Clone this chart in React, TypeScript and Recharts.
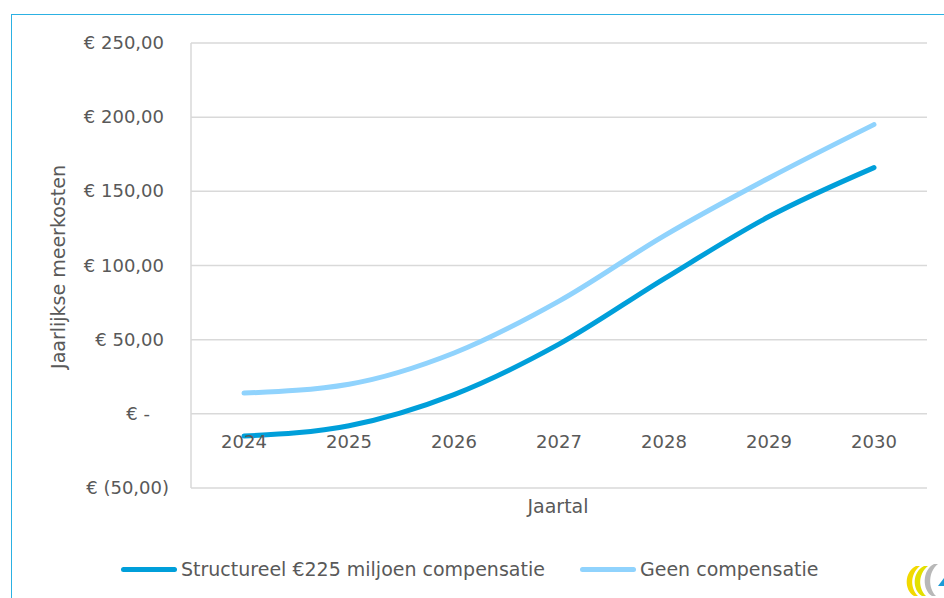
import { LineChart, Line, XAxis, YAxis, CartesianGrid } from 'recharts'

const years = ['2024', '2025', '2026', '2027', '2028', '2029', '2030']
const structureel = [-15, -8, 13, 47, 91, 133, 166]
const geen = [14, 20, 41, 76, 120, 159, 195]
const yTicks = [-50, 0, 50, 100, 150, 200, 250]

const data = years.map((year, i) => ({
  year,
  structureel: structureel[i],
  geen: geen[i],
}))

const W = 944
const H = 598
const PLOT_TOP = 43
const PLOT_BOTTOM = 488
const PLOT_LEFT = 191
const PLOT_RIGHT = 927
const Y_MIN = -50
const Y_MAX = 250

const font = '"DejaVu Sans", sans-serif'
const textColor = '#595959'
const gridColor = '#d9d9d9'
const darkBlue = '#009fda'
const lightBlue = '#90d3fd'

const zeroY = PLOT_TOP + ((PLOT_BOTTOM - PLOT_TOP) * Y_MAX) / (Y_MAX - Y_MIN)

function euro(v: number) {
  if (v === 0) return '€ -'
  const s = Math.abs(v).toFixed(2).replace('.', ',')
  return v < 0 ? `€ (${s})` : `€ ${s}`
}

function YTick(props: any) {
  const { x, y, payload } = props
  const v = payload.value as number
  let dx = 0
  if (v === 0) dx = -14
  if (v < 0) dx = 5
  return (
    <text
      x={x + dx}
      y={y}
      dy={6}
      textAnchor="end"
      fontFamily={font}
      fontSize={18}
      fill={textColor}
    >
      {euro(v)}
    </text>
  )
}

function XTick(props: any) {
  const { x, payload } = props
  return (
    <text
      x={x}
      y={zeroY + 34}
      textAnchor="middle"
      fontFamily={font}
      fontSize={18}
      fill={textColor}
    >
      {payload.value}
    </text>
  )
}

function LegendItem({ color, label, left }: { color: string; label: string; left: number }) {
  return (
    <div style={{ position: 'absolute', left, top: 558, display: 'flex', alignItems: 'center' }}>
      <div style={{ width: 56, height: 5, borderRadius: 3, background: color, marginRight: 4 }} />
      <span style={{ fontFamily: font, fontSize: 19, color: textColor, whiteSpace: 'nowrap' }}>{label}</span>
    </div>
  )
}

export default function App() {
  return (
    <div style={{ position: 'absolute', left: 0, top: 0, width: W, height: H, overflow: 'hidden', background: '#fff' }}>
      <div
        style={{
          position: 'absolute',
          left: 11,
          top: 14,
          width: W,
          height: H,
          borderTop: '1px solid #2cb1e3',
          borderLeft: '1px solid #2cb1e3',
        }}
      />
      <div style={{ position: 'absolute', left: 0, top: 0 }}>
        <LineChart
          width={W}
          height={H}
          data={data}
          margin={{ top: PLOT_TOP, right: W - PLOT_RIGHT, bottom: H - PLOT_BOTTOM - 30, left: 0 }}
        >
          <CartesianGrid horizontal vertical={false} stroke={gridColor} strokeWidth={1.5} />
          <XAxis
            dataKey="year"
            height={30}
            axisLine={false}
            tickLine={false}
            padding={{ left: 53, right: 53 }}
            tick={<XTick />}
            interval={0}
          />
          <YAxis
            width={PLOT_LEFT}
            domain={[Y_MIN, Y_MAX]}
            ticks={yTicks}
            interval={0}
            axisLine={{ stroke: gridColor, strokeWidth: 1.5 }}
            tickLine={false}
            tickMargin={21}
            tick={<YTick />}
          />
          <YAxis
            yAxisId="right"
            orientation="right"
            width={0}
            domain={[Y_MIN, Y_MAX]}
            tick={false}
            tickLine={false}
            axisLine={{ stroke: gridColor, strokeWidth: 1.5 }}
          />
          <Line
            type="monotone"
            dataKey="geen"
            stroke={lightBlue}
            strokeWidth={5}
            strokeLinecap="round"
            dot={false}
            isAnimationActive={false}
          />
          <Line
            type="monotone"
            dataKey="structureel"
            stroke={darkBlue}
            strokeWidth={5}
            strokeLinecap="round"
            dot={false}
            isAnimationActive={false}
          />
          <text
            x={58}
            y={267}
            transform="rotate(-90 58 267)"
            textAnchor="middle"
            dominantBaseline="central"
            fontFamily={font}
            fontSize={19}
            fill={textColor}
          >
            Jaarlijkse meerkosten
          </text>
          <text
            x={558}
            y={506}
            textAnchor="middle"
            dominantBaseline="central"
            fontFamily={font}
            fontSize={19}
            fill={textColor}
          >
            Jaartal
          </text>
        </LineChart>
      </div>
      <LegendItem color={darkBlue} label="Structureel €225 miljoen compensatie" left={121} />
      <LegendItem color={lightBlue} label="Geen compensatie" left={580} />
      <svg style={{ position: 'absolute', left: 900, top: 560 }} width={44} height={38}>
        <path d="M16 6 C4 12 4 30 14 36 L18 36 C10 28 10 14 20 6 Z" fill="#f2d900" />
        <path d="M24 6 C12 12 12 30 22 36 L26 36 C18 28 18 14 28 6 Z" fill="#e3e000" />
        <path d="M34 4 C22 10 22 30 32 36 L36 36 C28 28 28 12 38 4 Z" fill="#b8b8b8" />
        <path d="M38 26 L44 18 L44 26 Z" fill="#1a9bd7" />
      </svg>
    </div>
  )
}
